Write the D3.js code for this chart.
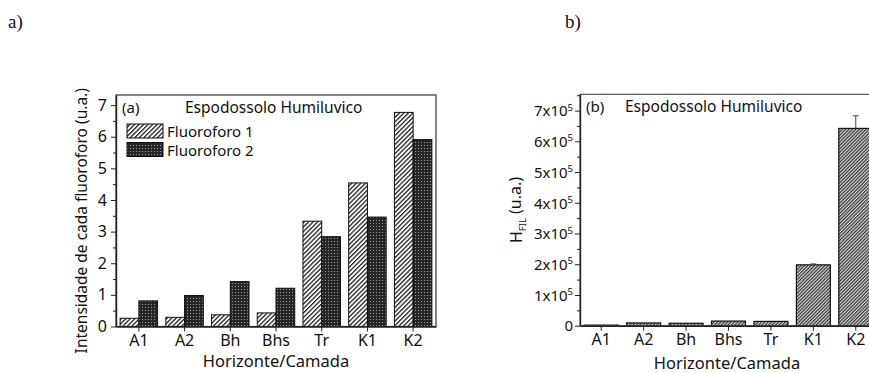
<!DOCTYPE html>
<html>
<head>
<meta charset="utf-8">
<script src="https://cdn.jsdelivr.net/npm/d3@7"></script>
<style>
  body { margin: 0; background: #fff; }
  svg { display: block; }
  text { font-family: "Noto Sans", sans-serif; fill: #111; }
  .axis path, .axis line { stroke: #222; }
  .panel-label { font-family: "Liberation Serif", serif; font-size: 19px; }
</style>
</head>
<body>
<div id="chart"></div>
<script>
//Datos
const categorias = ['A1', 'A2', 'Bh', 'Bhs', 'Tr', 'K1', 'K2'];
const fluoroforo1 = [0.26, 0.29, 0.37, 0.43, 3.33, 4.54, 6.77];
const fluoroforo2 = [0.81, 0.98, 1.42, 1.21, 2.84, 3.46, 5.91];
const ticksA = [0, 1, 2, 3, 4, 5, 6, 7];
const hfil = [2000, 9000, 8000, 15000, 14000, 198000, 642000];
const hfilErr = [0, 0, 0, 0, 0, 3000, 41000];
const ticksB = [0, 1, 2, 3, 4, 5, 6, 7];

let svg = d3.select('#chart')
    .append('svg')
    .attr('width', 869)
    .attr('height', 373);

//Patrones
let defs = svg.append('defs');

let p1 = defs.append('pattern')
    .attr('id', 'hatch1')
    .attr('patternUnits', 'userSpaceOnUse')
    .attr('width', 3.2).attr('height', 3.2)
    .attr('patternTransform', 'rotate(45)');
p1.append('rect').attr('width', 3.2).attr('height', 3.2).attr('fill', '#fff');
p1.append('rect').attr('width', 1.3).attr('height', 3.2).attr('fill', '#222');

let p2 = defs.append('pattern')
    .attr('id', 'dots2')
    .attr('patternUnits', 'userSpaceOnUse')
    .attr('width', 3).attr('height', 3);
p2.append('rect').attr('width', 3).attr('height', 3).attr('fill', '#262626');
p2.append('rect').attr('x', 1).attr('y', 1).attr('width', 1).attr('height', 1).attr('fill', '#999');

let p3 = defs.append('pattern')
    .attr('id', 'hatch3')
    .attr('patternUnits', 'userSpaceOnUse')
    .attr('width', 2.4).attr('height', 2.4)
    .attr('patternTransform', 'rotate(45)');
p3.append('rect').attr('width', 2.4).attr('height', 2.4).attr('fill', '#d8d8d8');
p3.append('rect').attr('width', 1.2).attr('height', 2.4).attr('fill', '#333');

//Etiquetas de panel
svg.append('text').attr('class', 'panel-label').attr('x', 8).attr('y', 28).text('a)');
svg.append('text').attr('class', 'panel-label').attr('x', 565).attr('y', 28).text('b)');

/////
// Gráfico a
/////
let a = { left: 116, right: 436, top: 95, bottom: 326.5 };

let xA = d3.scaleBand()
    .domain(categorias)
    .range([a.left, a.right])
    .paddingInner(0.18)
    .paddingOuter(0.09);

let yA = d3.scaleLinear()
    .domain([0, 7.32])
    .range([a.bottom, a.top]);

let xSub = d3.scaleBand()
    .domain(['f1', 'f2'])
    .range([0, xA.bandwidth()]);

let gA = svg.append('g');

//Barras
categorias.forEach(function(c, i) {
    gA.append('rect')
        .attr('x', xA(c) + xSub('f1'))
        .attr('y', yA(fluoroforo1[i]))
        .attr('width', xSub.bandwidth())
        .attr('height', yA(0) - yA(fluoroforo1[i]))
        .attr('fill', 'url(#hatch1)')
        .attr('stroke', '#111').attr('stroke-width', 1);
    gA.append('rect')
        .attr('x', xA(c) + xSub('f2'))
        .attr('y', yA(fluoroforo2[i]))
        .attr('width', xSub.bandwidth())
        .attr('height', yA(0) - yA(fluoroforo2[i]))
        .attr('fill', 'url(#dots2)')
        .attr('stroke', '#111').attr('stroke-width', 1);
});

//Marco
gA.append('rect')
    .attr('x', a.left).attr('y', a.top)
    .attr('width', a.right - a.left).attr('height', a.bottom - a.top)
    .attr('fill', 'none').attr('stroke', '#333').attr('stroke-width', 1.2);

//Ejes
gA.append('g')
    .attr('class', 'axis')
    .attr('transform', 'translate(' + a.left + ',0)')
    .call(d3.axisLeft(yA).tickValues(ticksA).tickSize(5).tickSizeOuter(0).tickPadding(4).tickFormat(d3.format('d')))
    .call(function(g) {
        g.select('.domain').attr('stroke-width', 1.4);
        g.selectAll('text').attr('font-size', 16);
    });

gA.append('g')
    .attr('class', 'axis')
    .attr('transform', 'translate(' + a.left + ',0)')
    .call(d3.axisLeft(yA).tickValues(d3.range(0.5, 7.3, 1)).tickSize(3).tickFormat(''))
    .call(function(g) { g.select('.domain').remove(); });

gA.append('g')
    .attr('class', 'axis')
    .attr('transform', 'translate(0,' + a.bottom + ')')
    .call(d3.axisBottom(xA).tickSize(5).tickSizeOuter(0).tickPadding(3))
    .call(function(g) {
        g.select('.domain').attr('stroke-width', 1.4);
        g.selectAll('text').attr('font-size', 16);
    });

gA.append('text')
    .attr('x', (a.left + a.right) / 2).attr('y', 367)
    .attr('text-anchor', 'middle').attr('font-size', 16.5)
    .text('Horizonte/Camada');

gA.append('text')
    .attr('transform', 'translate(87,' + ((a.top + a.bottom) / 2 + 10) + ') rotate(-90)')
    .attr('text-anchor', 'middle').attr('font-size', 15.5)
    .text('Intensidade de cada fluoroforo (u.a.)');

gA.append('text').attr('x', 122).attr('y', 113).attr('font-size', 15).text('(a)');
gA.append('text').attr('x', 185).attr('y', 113).attr('font-size', 15.5).text('Espodossolo Humiluvico');

//Leyenda
let leyenda = [['Fluoroforo 1', 'url(#hatch1)'], ['Fluoroforo 2', 'url(#dots2)']];
leyenda.forEach(function(d, i) {
    gA.append('rect')
        .attr('x', 127).attr('y', 124 + i * 18.5)
        .attr('width', 36).attr('height', 14)
        .attr('fill', d[1]).attr('stroke', '#111');
    gA.append('text')
        .attr('x', 167).attr('y', 137 + i * 18.5)
        .attr('font-size', 15).text(d[0]);
});

/////
// Gráfico b
/////
let b = { left: 580, right: 877, top: 94.3, bottom: 325.7 };

let xB = d3.scaleBand()
    .domain(categorias)
    .range([b.left, b.right])
    .paddingInner(0.2)
    .paddingOuter(0.1);

let yB = d3.scaleLinear()
    .domain([0, 753000])
    .range([b.bottom, b.top]);

let gB = svg.append('g');

gB.selectAll('.barB')
    .data(categorias)
    .enter()
    .append('rect')
    .attr('class', 'barB')
    .attr('x', function(d) { return xB(d); })
    .attr('y', function(d, i) { return yB(hfil[i]); })
    .attr('width', xB.bandwidth())
    .attr('height', function(d, i) { return yB(0) - yB(hfil[i]); })
    .attr('fill', 'url(#hatch3)')
    .attr('stroke', '#111').attr('stroke-width', 1.2);

//Barras de error
categorias.forEach(function(c, i) {
    if (hfilErr[i] <= 0) return;
    let cx = xB(c) + xB.bandwidth() / 2;
    gB.append('line')
        .attr('x1', cx).attr('x2', cx)
        .attr('y1', yB(hfil[i])).attr('y2', yB(hfil[i] + hfilErr[i]))
        .attr('stroke', '#444').attr('stroke-width', 1);
    gB.append('line')
        .attr('x1', cx - 3).attr('x2', cx + 3)
        .attr('y1', yB(hfil[i] + hfilErr[i])).attr('y2', yB(hfil[i] + hfilErr[i]))
        .attr('stroke', '#444').attr('stroke-width', 1);
});

gB.append('rect')
    .attr('x', b.left).attr('y', b.top)
    .attr('width', b.right - b.left).attr('height', b.bottom - b.top)
    .attr('fill', 'none').attr('stroke', '#555').attr('stroke-width', 1.2);

gB.append('g')
    .attr('class', 'axis')
    .attr('transform', 'translate(' + b.left + ',0)')
    .call(d3.axisLeft(yB).tickValues(ticksB.map(function(t) { return t * 1e5; })).tickSize(5).tickSizeOuter(0).tickFormat(''))
    .call(function(g) {
        g.select('.domain').attr('stroke-width', 1.4);
        g.selectAll('.tick').each(function(d) {
            let t = d3.select(this).append('text')
                .attr('x', -7).attr('dy', '0.35em')
                .attr('text-anchor', 'end').attr('font-size', 15)
                .attr('fill', '#111');
            if (d === 0) {
                t.text('0');
            } else {
                t.append('tspan').text((d / 1e5) + 'x10');
                t.append('tspan').attr('font-size', 9.5).attr('dy', '-0.6em').text('5');
            }
        });
    });

gB.append('g')
    .attr('class', 'axis')
    .attr('transform', 'translate(' + b.left + ',0)')
    .call(d3.axisLeft(yB).tickValues(d3.range(0.5, 7.6, 1).map(function(t) { return t * 1e5; })).tickSize(3).tickFormat(''))
    .call(function(g) { g.select('.domain').remove(); });

gB.append('g')
    .attr('class', 'axis')
    .attr('transform', 'translate(0,' + b.bottom + ')')
    .call(d3.axisBottom(xB).tickSize(5).tickSizeOuter(0).tickPadding(3))
    .call(function(g) {
        g.select('.domain').attr('stroke-width', 1.4);
        g.selectAll('text').attr('font-size', 16);
    });

gB.append('text')
    .attr('x', 727).attr('y', 369)
    .attr('text-anchor', 'middle').attr('font-size', 16.5)
    .text('Horizonte/Camada');

let yl = gB.append('text')
    .attr('transform', 'translate(522,' + ((b.top + b.bottom) / 2) + ') rotate(-90)')
    .attr('text-anchor', 'middle').attr('font-size', 16);
yl.append('tspan').text('H');
yl.append('tspan').attr('font-size', 9.5).attr('dy', '0.45em').text('FIL');
yl.append('tspan').attr('dy', '-0.3em').text(' (u.a.)');

gB.append('text').attr('x', 586).attr('y', 112).attr('font-size', 15).text('(b)');
gB.append('text').attr('x', 625).attr('y', 112).attr('font-size', 15.5).text('Espodossolo Humiluvico');
</script>
</body>
</html>
